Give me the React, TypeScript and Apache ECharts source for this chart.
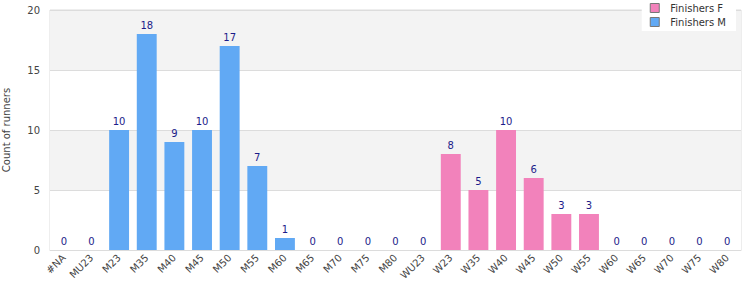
import React, { useEffect, useRef } from "react";
import * as echarts from "echarts";

const categories = ["#NA","MU23","M23","M35","M40","M45","M50","M55","M60","M65","M70","M75","M80","WU23","W23","W35","W40","W45","W50","W55","W60","W65","W70","W75","W80"];
const finishersM: (number | null)[] = [0,0,10,18,9,10,17,7,1,0,0,0,0,null,null,null,null,null,null,null,null,null,null,null,null];
const finishersF: (number | null)[] = [null,null,null,null,null,null,null,null,null,null,null,null,null,0,8,5,10,6,3,3,0,0,0,0,0];
const yTicks = [0, 5, 10, 15, 20];

const FONT = "DejaVu Sans";

export default function App() {
  const ref = useRef<HTMLDivElement>(null);
  useEffect(() => {
    const chart = echarts.init(ref.current!, null, { renderer: "svg" });
    const label = { show: true, position: "top", color: "#1c1c8a", fontFamily: FONT, fontSize: 10, distance: 4 };
    chart.setOption({
      animation: false,
      textStyle: { fontFamily: FONT },
      grid: { left: 50, right: 9, top: 10, bottom: 50, outerBoundsMode: "none", containLabel: false,
        show: true, borderColor: "#dcdcdc", borderWidth: 1, backgroundColor: "transparent" },
      legend: {
        orient: "vertical",
        right: 14,
        top: 0,
        backgroundColor: "#fff",
        padding: [3, 10, 4, 8],
        itemGap: 4,
        itemWidth: 9,
        itemHeight: 9,
        textStyle: { fontFamily: FONT, fontSize: 10, color: "#333", padding: [0, 0, 0, 6] },
        data: [
          { name: "Finishers F", icon: "rect", itemStyle: { borderColor: "#777", borderWidth: 1 } },
          { name: "Finishers M", icon: "rect", itemStyle: { borderColor: "#777", borderWidth: 1 } },
        ],
      },
      xAxis: {
        type: "category",
        data: categories,
        axisLine: { show: true, lineStyle: { color: "#dcdcdc" } },
        axisTick: { show: false },
        axisLabel: { rotate: 45, interval: 0, color: "#444", fontFamily: FONT, fontSize: 10, margin: 6 },
      },
      yAxis: {
        type: "value",
        min: 0,
        max: 20,
        interval: 5,
        name: "Count of runners",
        nameLocation: "middle",
        nameGap: 39,
        nameTextStyle: { color: "#444", fontFamily: FONT, fontSize: 10 },
        axisLabel: { color: "#444", fontFamily: FONT, fontSize: 10, margin: 10,
          formatter: (v: number) => (yTicks.includes(v) ? String(v) : "") },
        axisLine: { show: false },
        axisTick: { show: false },
        splitLine: { show: true, lineStyle: { color: "#dcdcdc" } },
        splitArea: { show: true, areaStyle: { color: ["#ffffff", "#f3f3f3"] } },
      },
      series: [
        { name: "Finishers F", type: "bar", data: finishersF, barWidth: "72%", barGap: "-100%",
          itemStyle: { color: "#f282bb" }, label },
        { name: "Finishers M", type: "bar", data: finishersM, barWidth: "72%", barGap: "-100%",
          itemStyle: { color: "#61a9f4" }, label },
      ],
    });
    return () => chart.dispose();
  }, []);
  return <div ref={ref} style={{ width: 750, height: 300, position: "absolute", left: 0, top: 0 }} />;
}
